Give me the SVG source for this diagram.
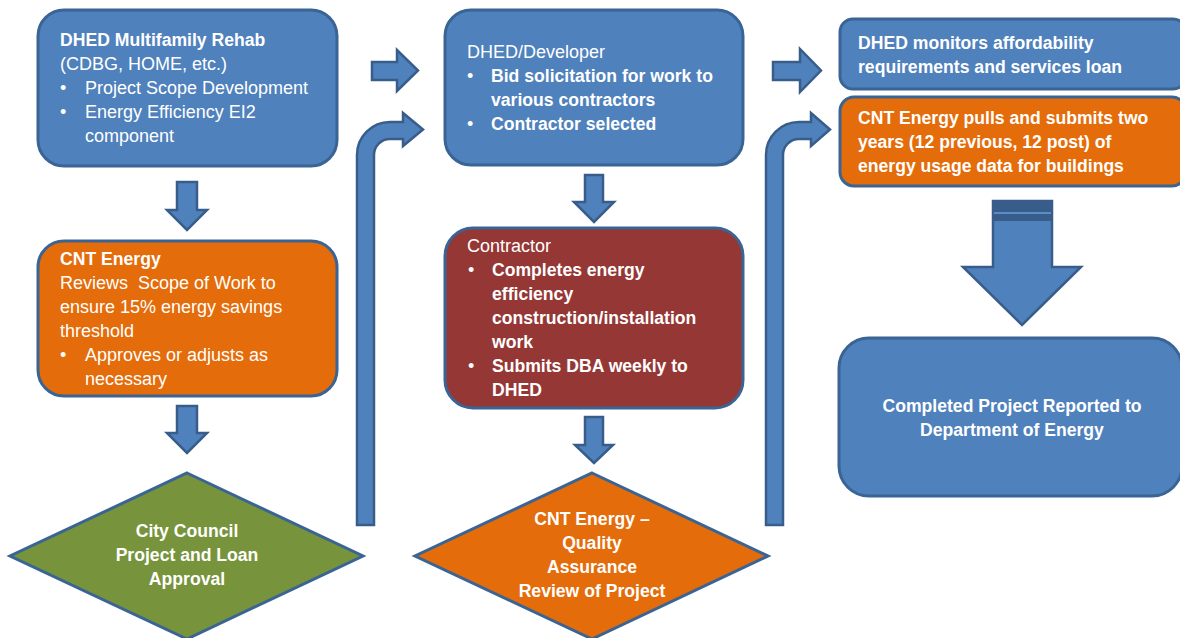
<svg xmlns="http://www.w3.org/2000/svg" width="1180" height="638" viewBox="0 0 1180 638">
<style>
  .bx{stroke:#3A6494;stroke-width:3}
  .blue{fill:#4F81BD}
  .orange{fill:#E46C0A}
  .maroon{fill:#953735}
  .green{fill:#77933C}
  .arr{fill:#4F81BD;stroke:#385D8A;stroke-width:2.5;stroke-linejoin:miter}
  text{font-family:"Liberation Sans",Arial,sans-serif;font-size:18px;fill:#FFFFFF}
  .b{font-weight:bold;font-size:17.6px}
  .c{text-anchor:middle}
</style>
<rect width="1180" height="638" fill="#FFFFFF"/>

<g id="connectors">
  <path class="arr" d="M177 182 H197 V210 H207 L187 230 L167 210 H177 Z"/>
  <path class="arr" d="M177 406 H197 V433 H207 L187 453 L167 433 H177 Z"/>
  <path class="arr" d="M585 175 H603 V202 H614 L594 222 L574 202 H585 Z"/>
  <path class="arr" d="M585 417 H603 V445 H613 L594 463 L575 445 H585 Z"/>
  <path class="arr" d="M372 62 H397 V50 L418 70.5 L397 91 V80 H372 Z"/>
  <path class="arr" d="M773 62 H800 V49 L821 70.5 L800 92 V80 H773 Z"/>
  <path class="arr" d="M357 525 V155 A33 33 0 0 1 390 122 H403 V113 L423 129.5 L403 146 V139 H390 A16 16 0 0 0 374 155 V525 Z"/>
  <path class="arr" d="M766 525 V155 A33 33 0 0 1 799 122 H811 V113 L830 129.5 L811 146 V139 H799 A16 16 0 0 0 783 155 V525 Z"/>
  <path class="arr" d="M993 201 H1052 V267 H1081 L1022 325 L963 267 H993 Z"/>
  <rect x="993" y="201" width="59" height="20" fill="#385D8A"/>
  <rect x="994" y="212" width="57" height="2" fill="#5A8CC6"/>
</g>

<g id="node-dhed-multifamily">
  <rect class="bx blue" x="38" y="10" width="299" height="156" rx="26"/>
  <text class="b" x="60" y="46">DHED Multifamily Rehab</text>
  <text x="60" y="70">(CDBG, HOME, etc.)</text>
  <text x="60" y="94">•</text><text x="85" y="94">Project Scope Development</text>
  <text x="60" y="118">•</text><text x="85" y="118">Energy Efficiency EI2</text>
  <text x="85" y="142">component</text>
</g>

<g id="node-cnt-review">
  <rect class="bx orange" x="38" y="241" width="299" height="155" rx="26"/>
  <text class="b" x="60" y="265">CNT Energy</text>
  <text x="60" y="289" xml:space="preserve">Reviews  Scope of Work to</text>
  <text x="60" y="313">ensure 15% energy savings</text>
  <text x="60" y="337">threshold</text>
  <text x="60" y="361">•</text><text x="85" y="361">Approves or adjusts as</text>
  <text x="85" y="385">necessary</text>
</g>

<g id="node-city-council">
  <polygon class="bx green" points="187,473 363,556 187,639 10,556"/>
  <text class="b c" x="187" y="537">City Council</text>
  <text class="b c" x="187" y="561">Project and Loan</text>
  <text class="b c" x="187" y="585">Approval</text>
</g>

<g id="node-dhed-developer">
  <rect class="bx blue" x="445" y="10" width="298" height="155" rx="26"/>
  <text x="467" y="58">DHED/Developer</text>
  <text x="467" y="82">•</text><text class="b" x="491" y="82">Bid solicitation for work to</text>
  <text class="b" x="491" y="106">various contractors</text>
  <text x="467" y="130">•</text><text class="b" x="491" y="130">Contractor selected</text>
</g>

<g id="node-contractor">
  <rect class="bx maroon" x="445" y="228" width="298" height="180" rx="28"/>
  <text x="467" y="252">Contractor</text>
  <text x="468" y="276">•</text><text class="b" x="492" y="276">Completes energy</text>
  <text class="b" x="492" y="300">efficiency</text>
  <text class="b" x="492" y="324">construction/installation</text>
  <text class="b" x="492" y="348">work</text>
  <text x="468" y="372">•</text><text class="b" x="492" y="372">Submits DBA weekly to</text>
  <text class="b" x="492" y="396">DHED</text>
</g>

<g id="node-cnt-qa">
  <polygon class="bx orange" points="592,473 768,556 592,639 415,556"/>
  <text class="b c" x="592" y="525">CNT Energy –</text>
  <text class="b c" x="592" y="549">Quality</text>
  <text class="b c" x="592" y="573">Assurance</text>
  <text class="b c" x="592" y="597">Review of Project</text>
</g>

<g id="node-dhed-monitors">
  <rect class="bx blue" x="840" y="19" width="346" height="70" rx="13"/>
  <text class="b" x="858" y="49">DHED monitors affordability</text>
  <text class="b" x="858" y="73">requirements and services loan</text>
</g>

<g id="node-cnt-pulls">
  <rect class="bx orange" x="840" y="97" width="346" height="89" rx="14"/>
  <text class="b" x="858" y="124">CNT Energy pulls and submits two</text>
  <text class="b" x="858" y="148">years (12 previous, 12 post) of</text>
  <text class="b" x="858" y="172">energy usage data for buildings</text>
</g>

<g id="node-completed">
  <rect class="bx blue" x="839" y="338" width="343" height="158" rx="30"/>
  <text class="b c" x="1012" y="412">Completed Project Reported to</text>
  <text class="b c" x="1012" y="436">Department of Energy</text>
</g>
</svg>
